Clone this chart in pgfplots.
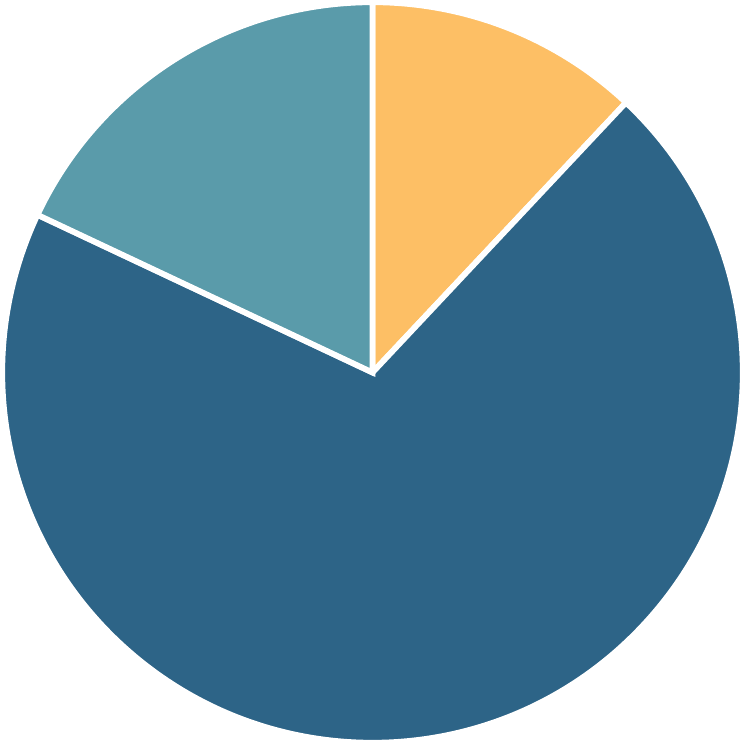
\documentclass[border=0pt]{standalone}
\usepackage{pgfplots}
\usepackage{pgfplotstable}
\pgfplotsset{compat=1.18}

\definecolor{pieorange}{RGB}{253,191,101}
\definecolor{pieblue}{RGB}{45,100,135}
\definecolor{pieteal}{RGB}{90,155,170}

% shares in percent, clockwise from the top
\pgfplotstableread{
share
12
70
18
}\piedata

\pgfplotstablegetelem{0}{share}\of\piedata \pgfmathsetmacro\sa{\pgfplotsretval}
\pgfplotstablegetelem{1}{share}\of\piedata \pgfmathsetmacro\sb{\pgfplotsretval}
\pgfplotstablegetelem{2}{share}\of\piedata \pgfmathsetmacro\sc{\pgfplotsretval}
\pgfmathsetmacro\aa{90}
\pgfmathsetmacro\ab{\aa-3.6*\sa}
\pgfmathsetmacro\ac{\ab-3.6*\sb}
\pgfmathsetmacro\ad{\ac-3.6*\sc}
\def\rad{4.97cm}

\begin{document}
\begin{tikzpicture}
  \begin{axis}[
    name=pie,
    hide axis,
    scale only axis,
    width=10cm, height=10cm,
    xmin=-1, xmax=1, ymin=-1, ymax=1,
    clip=false,
  ]
    \addplot[draw=none] coordinates {(0,0)};
    \filldraw[fill=pieorange, draw=white, line width=2.2pt, line join=miter]
      (axis cs:0,0) -- ++(\aa:\rad) arc[start angle=\aa, end angle=\ab, radius=\rad] -- cycle;
    \filldraw[fill=pieblue, draw=white, line width=2.2pt, line join=miter]
      (axis cs:0,0) -- ++(\ab:\rad) arc[start angle=\ab, end angle=\ac, radius=\rad] -- cycle;
    \filldraw[fill=pieteal, draw=white, line width=2.2pt, line join=miter]
      (axis cs:0,0) -- ++(\ac:\rad) arc[start angle=\ac, end angle=\ad, radius=\rad] -- cycle;
  \end{axis}
  \pgfresetboundingbox
  \path[use as bounding box] (pie.south west) rectangle (pie.north east);
\end{tikzpicture}
\end{document}
